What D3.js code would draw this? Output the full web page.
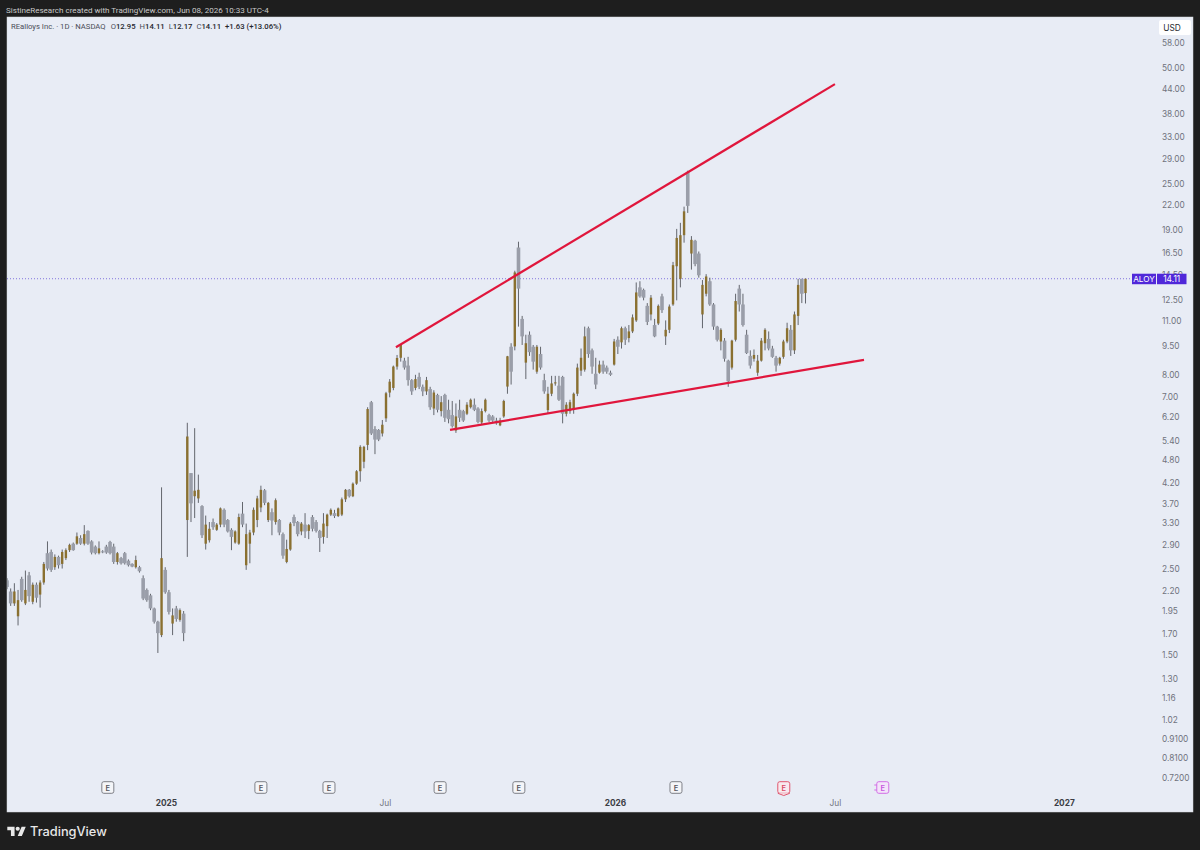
<!DOCTYPE html>
<html>
<head>
<meta charset="utf-8">
<script src="https://cdn.jsdelivr.net/npm/d3@7"></script>
<style>
  html, body { margin: 0; background: #1e1e1e; }
  svg { display: block; font-family: Inter, "Noto Sans", sans-serif; }
</style>
</head>
<body>
<svg width="1200" height="850"></svg>
<script>
// every bar here stands for two sessions, x runs on bar number like the original
const opens = [
  2.33,2.18,2.03,1.88,2.35,2.03,2.40,2.05,2.27,2.14,
  2.30,2.74,2.76,2.52,2.68,2.57,2.66,2.79,2.90,2.90,
  3.00,2.90,3.13,2.94,2.85,2.74,2.77,2.85,2.93,2.85,
  2.60,2.66,2.74,2.62,2.57,2.52,2.52,2.36,2.20,2.13,
  1.97,1.82,1.68,2.48,2.17,1.80,1.97,1.84,1.91,
  3.34,4.42,3.85,3.80,3.63,2.90,2.96,3.30,3.15,3.25,
  3.55,3.34,3.15,2.92,2.90,3.47,2.55,2.90,3.10,3.34,
  3.60,3.99,3.34,3.50,3.30,3.34,3.07,2.60,2.80,3.40,
  3.30,3.12,3.25,3.13,3.40,3.30,3.13,3.02,3.22,3.45,
  3.48,3.42,3.45,3.78,4.00,3.85,4.15,4.47,4.73,5.23,
  6.75,5.75,5.72,5.60,6.13,7.15,7.35,8.35,8.80,8.65,
  8.40,7.70,7.35,7.85,7.40,7.20,7.30,6.50,7.05,6.40,
  7.05,6.45,6.25,5.70,6.45,6.40,6.30,6.55,6.65,6.50,
  5.98,6.40,6.25,6.20,6.05,5.88,6.20,7.41,9.40,9.42,
  17.0,11.1,8.55,10.1,9.40,8.10,9.00,7.70,6.44,7.10,
  7.55,7.45,7.85,6.30,6.40,6.45,7.10,8.15,8.20,10.5,
  9.20,8.00,8.05,8.45,8.30,8.05,8.45,9.80,9.65,10.5,
  9.90,10.3,11.0,13.4,13.2,12.0,11.4,10.7,10.8,12.7,
  10.0,10.4,12.1,15.2,14.1,18.3,26.7,16.4,17.7,16.4,
  11.4,12.9,13.9,12.1,10.6,9.70,9.75,8.65,8.30,9.80,
  13.3,12.1,10.1,8.90,8.75,8.05,8.65,9.60,9.85,9.30,
  8.80,8.50,8.85,9.70,10.4,9.20,11.3,14.1,12.95
];
const highs = [
  2.36,2.22,2.29,2.20,2.38,2.47,2.45,2.30,2.30,2.33,
  2.60,2.94,2.80,2.72,2.70,2.80,2.82,2.90,2.92,3.10,
  3.05,3.24,3.14,2.96,2.87,2.94,2.79,2.88,2.95,2.90,
  2.76,2.68,2.76,2.64,2.58,2.70,2.54,2.40,2.22,2.15,
  1.98,1.83,4.06,2.52,2.20,1.97,2.00,1.97,1.94,
  5.97,4.42,5.78,4.38,3.65,3.43,3.30,3.37,3.28,3.60,
  3.58,3.36,3.18,3.14,3.47,3.72,3.27,3.15,3.60,3.86,
  4.10,4.02,3.72,3.58,3.80,3.36,3.10,2.97,3.30,3.45,
  3.32,3.30,3.48,3.26,3.44,3.34,3.15,3.48,3.47,3.58,
  3.55,3.60,3.82,4.02,4.02,4.18,4.50,5.22,5.20,6.55,
  6.80,5.85,5.75,6.07,7.18,7.75,8.40,8.95,9.55,8.80,
  8.85,7.75,7.95,8.05,7.50,7.85,7.40,7.25,7.10,7.00,
  7.10,6.85,6.80,6.70,6.85,6.45,6.75,6.90,6.90,6.55,
  6.50,6.90,6.30,6.25,6.15,6.15,6.85,8.90,9.60,14.8,
  17.6,11.3,10.1,10.3,9.50,9.50,9.40,8.00,7.40,7.90,
  7.90,7.90,7.90,6.75,6.85,7.15,8.50,9.30,10.6,10.6,
  9.30,8.80,8.65,8.65,8.40,8.15,9.85,10.0,10.6,10.6,
  10.7,11.4,13.8,13.9,13.3,12.2,12.8,11.1,12.1,12.9,
  11.0,12.1,15.6,19.0,19.7,21.7,26.9,18.2,17.8,16.6,
  14.0,14.5,14.2,12.2,10.65,10.5,9.90,8.70,9.80,12.9,
  13.6,12.9,10.4,9.20,9.25,8.95,9.90,10.5,10.3,9.45,
  8.90,8.85,9.80,10.85,10.7,11.6,14.1,14.1,14.11
];
const lows = [
  2.21,2.00,2.00,1.78,2.05,2.01,2.05,2.02,2.04,1.98,
  2.27,2.47,2.45,2.48,2.50,2.50,2.63,2.76,2.78,2.88,
  2.88,2.87,2.88,2.72,2.72,2.72,2.74,2.73,2.72,2.57,
  2.56,2.56,2.56,2.53,2.52,2.50,2.44,2.07,2.05,1.95,
  1.80,1.51,1.66,2.15,1.90,1.68,1.82,1.82,1.62,
  2.68,3.30,3.38,3.70,3.00,2.80,2.92,3.15,3.13,3.20,
  3.20,3.10,2.79,2.90,2.88,3.20,2.48,2.58,3.05,3.20,
  3.50,3.65,3.30,3.05,3.25,3.05,2.65,2.58,2.78,3.22,
  3.03,3.05,3.00,2.98,3.12,3.10,2.76,2.90,3.00,3.42,
  3.38,3.40,3.42,3.72,3.82,3.83,4.12,4.20,4.55,5.07,
  5.55,4.95,5.35,5.50,6.00,6.95,7.25,8.20,8.60,8.20,
  7.45,7.05,7.25,7.30,7.00,7.05,6.45,6.25,6.35,6.20,
  6.00,5.95,5.80,5.62,6.00,6.00,6.25,6.50,6.40,5.95,
  5.90,6.35,6.00,6.00,5.90,5.85,6.15,7.10,7.50,9.20,
  10.6,9.50,7.75,8.90,8.20,8.00,8.20,7.10,6.30,7.00,
  7.45,6.80,5.95,6.20,6.30,6.30,7.00,7.90,8.10,8.80,
  8.00,7.30,8.00,8.00,8.00,7.90,8.40,9.00,9.30,9.50,
  9.65,10.2,10.9,12.6,12.4,10.7,11.0,9.95,10.7,11.5,
  9.50,10.2,12.0,12.4,13.4,17.5,20.9,14.9,15.2,14.2,
  10.5,12.7,12.0,10.4,9.70,9.20,8.60,7.40,8.20,9.70,
  11.6,10.6,9.00,8.25,8.60,7.90,8.60,9.20,9.20,8.80,
  8.10,8.40,8.75,9.60,8.90,9.00,10.7,12.2,12.17
];
const closes = [
  2.24,2.03,2.18,2.07,2.07,2.20,2.12,2.27,2.10,2.30,
  2.57,2.50,2.48,2.68,2.55,2.76,2.79,2.88,2.79,3.03,
  2.90,3.07,2.90,2.75,2.74,2.82,2.76,2.75,2.74,2.60,
  2.74,2.58,2.58,2.55,2.53,2.63,2.46,2.09,2.07,1.97,
  1.82,1.70,2.66,2.17,1.93,1.89,1.85,1.95,1.70,
  5.50,3.69,3.98,4.00,3.05,3.25,3.17,3.20,3.25,3.58,
  3.25,3.12,3.02,3.12,3.40,3.25,3.07,3.10,3.55,3.80,
  4.00,3.70,3.70,3.33,3.76,3.10,2.70,2.81,3.27,3.28,
  3.07,3.27,3.12,3.24,3.17,3.13,3.00,3.27,3.45,3.55,
  3.42,3.58,3.78,4.00,3.85,4.15,4.47,5.17,5.17,6.48,
  5.60,5.40,5.40,5.90,7.12,7.63,8.35,8.79,9.50,8.30,
  7.70,7.20,7.75,7.40,7.20,7.70,6.55,7.15,6.45,6.75,
  6.15,6.10,5.85,6.20,6.15,6.05,6.65,6.85,6.45,6.00,
  6.40,6.85,6.05,6.05,5.95,6.05,6.80,8.88,8.10,14.65,
  13.3,10.0,9.60,9.10,8.60,9.40,8.30,7.20,7.10,7.55,
  7.60,6.85,6.30,6.65,6.75,7.10,8.30,8.80,10.0,9.00,
  8.35,7.50,8.45,8.10,8.10,7.95,9.70,9.40,10.5,9.80,
  10.3,11.2,13.0,12.7,12.6,10.9,12.6,10.0,12.0,11.7,
  10.4,11.95,15.3,18.0,18.3,21.1,21.8,17.8,15.4,14.4,
  13.6,14.3,12.1,10.6,9.80,10.4,8.75,7.65,9.75,12.35,
  12.1,10.7,9.05,8.40,8.95,8.65,9.75,10.4,9.30,8.85,
  8.40,8.80,9.70,10.5,9.20,11.4,13.6,12.9,14.11
];

const priceTicks = [58,50,44,38,33,29,25,22,19,16.5,14.5,12.5,11,9.5,8,7,6.2,5.4,4.8,4.2,3.7,3.3,2.9,2.5,2.2,1.95,1.7,1.5,1.3,1.16,1.02,0.91,0.81,0.72];
const timeLabels = ["2025","Jul","2026","Jul","2027"];
const timeBars = [43.2,102.7,165.2,225,287.2];
const earningsBars = [27.4,69,87.5,117.7,139.1,181.8];
const earningsSoonBar = [211.1];
const earningsNextBar = [238];
const upperTrendBars = [105.7,225];
const upperTrendPrices = [9.37,45.1];
const lowerTrendBars = [120.4,232.9];
const lowerTrendPrices = [5.72,8.69];
const lastPrice = 14.11;

const plot = { left: 7, top: 17, right: 1193, bottom: 812 };
const svg = d3.select("svg");

const xScale = d3.scaleLinear().domain([0, opens.length - 1]).range([7, 805.5]);
const yScale = d3.scaleLog().domain([58, 0.72]).range([42, 777]);

svg.append("rect").attr("width", 1200).attr("height", 850).attr("fill", "#1e1e1e");
svg
  .append("rect")
  .attr("x", plot.left)
  .attr("y", plot.top)
  .attr("width", plot.right - plot.left)
  .attr("height", plot.bottom - plot.top)
  .attr("fill", "#e8ecf5")
  .attr("stroke", "#d8dade")
  .attr("stroke-width", 0.5);

svg
  .append("clipPath")
  .attr("id", "plotClip")
  .append("rect")
  .attr("x", plot.left)
  .attr("y", plot.top)
  .attr("width", plot.right - plot.left)
  .attr("height", plot.bottom - plot.top);

// header + legend
svg
  .append("text")
  .attr("x", 6)
  .attr("y", 13)
  .attr("font-family", "Roboto, sans-serif")
  .attr("font-size", 8.05)
  .attr("fill", "#c9c9c9")
  .text("SistineResearch created with TradingView.com, Jun 08, 2026 10:33 UTC-4");

const legend = svg
  .append("text")
  .attr("x", 11)
  .attr("y", 29)
  .attr("font-family", "Roboto, sans-serif")
  .attr("font-size", 7.7)
  .attr("fill", "#4a4d57");
legend.append("tspan").text("REalloys Inc. · 1D · NASDAQ");
[["O", "12.95"], ["H", "14.11"], ["L", "12.17"], ["C", "14.11"]].forEach(([k, v], i) => {
  legend.append("tspan").attr("dx", i == 0 ? 5 : 4).text(k);
  legend.append("tspan").attr("fill", "#23252c").attr("font-weight", 500).text(v);
});
legend.append("tspan").attr("dx", 4).attr("fill", "#23252c").attr("font-weight", 500).text("+1.63 (+13.06%)");

// last price line
const chart = svg.append("g").attr("clip-path", "url(#plotClip)");
chart
  .append("line")
  .attr("x1", plot.left)
  .attr("x2", 1132)
  .attr("y1", yScale(lastPrice))
  .attr("y2", yScale(lastPrice))
  .attr("stroke", "#6a55d8")
  .attr("stroke-width", 0.8)
  .attr("stroke-dasharray", "1 2");

// candles
const bars = d3.range(opens.length);
const upColor = "#8a7030";
const downColor = "#9a9ea9";

chart
  .append("g")
  .selectAll("line")
  .data(bars)
  .join("line")
  .attr("x1", (i) => xScale(i))
  .attr("x2", (i) => xScale(i))
  .attr("y1", (i) => yScale(highs[i]))
  .attr("y2", (i) => yScale(lows[i]))
  .attr("stroke", "#63666d")
  .attr("stroke-width", 1);

const bodyWidth = (i) => (closes[i] >= opens[i] ? 2.4 : 3.6);
chart
  .append("g")
  .selectAll("rect")
  .data(bars)
  .join("rect")
  .attr("x", (i) => xScale(i) - bodyWidth(i) / 2)
  .attr("width", bodyWidth)
  .attr("y", (i) => yScale(Math.max(opens[i], closes[i])))
  .attr("height", (i) => Math.max(1, yScale(Math.min(opens[i], closes[i])) - yScale(Math.max(opens[i], closes[i]))))
  .attr("fill", (i) => (closes[i] >= opens[i] ? upColor : downColor));

// trend lines
const trendLine = d3.line().x((d) => xScale(d[0])).y((d) => yScale(d[1]));
[d3.zip(upperTrendBars, upperTrendPrices), d3.zip(lowerTrendBars, lowerTrendPrices)].forEach((pts) => {
  chart
    .append("path")
    .attr("d", trendLine(pts))
    .attr("fill", "none")
    .attr("stroke", "#e0163c")
    .attr("stroke-width", 2.2);
});

// earnings markers
function earnings(barList, stroke, fill, color) {
  const g = svg
    .append("g")
    .selectAll("g")
    .data(barList)
    .join("g")
    .attr("transform", (d) => `translate(${xScale(d)},787.5)`);
  g.append("rect")
    .attr("x", -6)
    .attr("y", -5.8)
    .attr("width", 12)
    .attr("height", 11.6)
    .attr("rx", 2)
    .attr("fill", fill)
    .attr("stroke", stroke)
    .attr("stroke-width", 1);
  g.append("text")
    .attr("text-anchor", "middle")
    .attr("y", 3)
    .attr("font-size", 7.5)
    .attr("font-weight", 600)
    .attr("fill", color)
    .text("E");
  return g;
}
earnings(earningsBars, "#7d7f86", "#f4f5f8", "#55575e");
const soon = earnings(earningsSoonBar, "#e0576f", "#f8e9ee", "#d94a66");
soon
  .append("path")
  .attr("d", "M-6 5.8L0 8L6 5.8")
  .attr("fill", "#f8e9ee")
  .attr("stroke", "#e0576f");
const next = earnings(earningsNextBar, "#d36fe6", "#f3e4fa", "#c657de");
next
  .selectAll("line")
  .data([-2.5, 2.5])
  .join("line")
  .attr("x1", -8.5)
  .attr("x2", -6)
  .attr("y1", (d) => d)
  .attr("y2", (d) => d)
  .attr("stroke", "#d36fe6");

// price axis
const yAxis = d3
  .axisRight(yScale)
  .tickValues(priceTicks)
  .tickSize(0)
  .tickPadding(0)
  .tickFormat((d) => (d < 1 ? d.toFixed(4) : d.toFixed(2)));
const yAxisG = svg.append("g").attr("transform", "translate(1162,0.8)").call(yAxis);
yAxisG.select(".domain").remove();
yAxisG
  .selectAll("text")
  .attr("font-family", "Inter, 'Noto Sans', sans-serif")
  .attr("font-size", 8.3)
  .attr("fill", "#70737d");

// time axis
const xAxis = d3
  .axisBottom(xScale)
  .tickValues(timeBars)
  .tickSize(0)
  .tickPadding(0)
  .tickFormat((d, i) => timeLabels[i]);
const xAxisG = svg.append("g").attr("transform", "translate(0,800.5)").call(xAxis);
xAxisG.select(".domain").remove();
xAxisG
  .selectAll("text")
  .attr("font-family", "Inter, 'Noto Sans', sans-serif")
  .attr("font-size", 8.3)
  .attr("font-weight", (d, i) => (timeLabels[i] == "Jul" ? 400 : 700))
  .attr("fill", (d, i) => (timeLabels[i] == "Jul" ? "#70737d" : "#3c3e45"));

// USD box and last price tags
svg.append("rect").attr("x", 1159).attr("y", 20).attr("width", 32).attr("height", 15).attr("rx", 2).attr("fill", "#ffffff");
svg
  .append("text")
  .attr("x", 1172)
  .attr("y", 30.5)
  .attr("text-anchor", "middle")
  .attr("font-size", 8.4)
  .attr("fill", "#2a2c33")
  .text("USD");

const tagY = yScale(lastPrice);
svg.append("rect").attr("x", 1132).attr("y", tagY - 5).attr("width", 24).attr("height", 10.5).attr("fill", "#5028d9");
svg.append("rect").attr("x", 1157).attr("y", tagY - 5).attr("width", 29.5).attr("height", 10.5).attr("fill", "#5028d9");
svg
  .append("text")
  .attr("x", 1144)
  .attr("y", tagY + 3)
  .attr("text-anchor", "middle")
  .attr("font-size", 8.2)
  .attr("fill", "#ffffff")
  .text("ALOY");
svg
  .append("text")
  .attr("x", 1171.7)
  .attr("y", tagY + 3)
  .attr("text-anchor", "middle")
  .attr("font-size", 8.4)
  .attr("fill", "#ffffff")
  .text(lastPrice.toFixed(2));

// tradingview logo
const logo = svg.append("g").attr("transform", "translate(7.3,824.6) scale(0.52)").attr("fill", "#e8e8e8");
logo.append("path").attr("d", "M14 22H7V11H0V4h14v18zM28 22h-8l7.5-18h8L28 22z");
logo.append("circle").attr("cx", 20).attr("cy", 8).attr("r", 4);
svg
  .append("text")
  .attr("x", 30)
  .attr("y", 836)
  .attr("font-family", "Inter, sans-serif")
  .attr("font-size", 12.8)
  .attr("font-weight", 500)
  .attr("fill", "#e8e8e8")
  .text("TradingView");
</script>
</body>
</html>
